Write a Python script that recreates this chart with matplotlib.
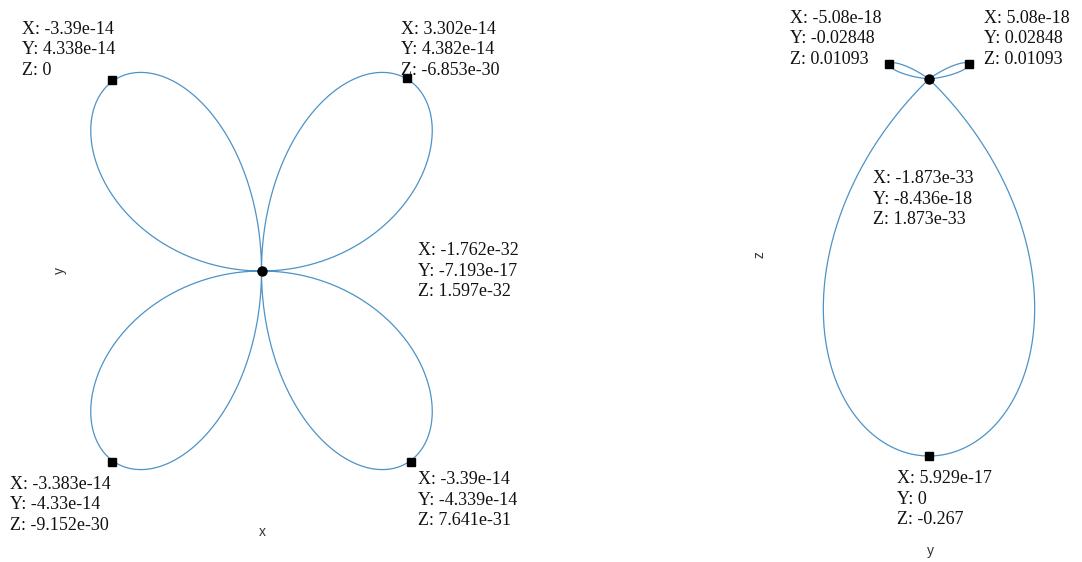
import numpy as np
import matplotlib.pyplot as plt

plt.rcParams['font.family'] = ['Liberation Serif', 'DejaVu Serif']

# x-y view: four-leaf rose, lobe amplitude along x and along y
rose_ax = 5.03e-14
rose_ay = 5.85e-14

# y-z view: one long lobe under the crossing, two short ones above it
lobe_dir = [-90.0, 20.6, 159.4]      # direction of each lobe (deg)
lobe_len = [0.267, 0.0305, 0.0305]   # lobe length
lobe_half = [45.0, 15.0, 15.0]       # half opening angle at the crossing (deg)
lobe_wide = [1.03, 1.0, 1.0]         # sideways stretch of the lobe

# data tips, x-y view
xy_tip_x = [-3.39e-14, 3.302e-14, -3.383e-14, 3.39e-14]
xy_tip_y = [4.338e-14, 4.382e-14, -4.33e-14, -4.339e-14]
xy_tip_text = ['X: -3.39e-14\nY: 4.338e-14\nZ: 0',
               'X: 3.302e-14\nY: 4.382e-14\nZ: -6.853e-30',
               'X: -3.383e-14\nY: -4.33e-14\nZ: -9.152e-30',
               'X: -3.39e-14\nY: -4.339e-14\nZ: 7.641e-31']
xy_mid_x = -1.762e-32
xy_mid_y = -7.193e-17
xy_mid_text = 'X: -1.762e-32\nY: -7.193e-17\nZ: 1.597e-32'

# data tips, y-z view
yz_tip_y = [-0.02848, 0.02848, 0.0]
yz_tip_z = [0.01093, 0.01093, -0.267]
yz_tip_text = ['X: -5.08e-18\nY: -0.02848\nZ: 0.01093',
               'X: 5.08e-18\nY: 0.02848\nZ: 0.01093',
               'X: 5.929e-17\nY: 0\nZ: -0.267']
yz_mid_y = -8.436e-18
yz_mid_z = 1.873e-33
yz_mid_text = 'X: -1.873e-33\nY: -8.436e-18\nZ: 1.873e-33'

W, H = 1082, 562
line_col = '#4d93c6'


def place(box, origin, ppu):
    """axes over pixel box (l, t, r, b), data (0,0) at pixel origin, ppu px per unit"""
    l, t, r, b = box
    ax = fig.add_axes([l / W, 1 - b / H, (r - l) / W, (b - t) / H])
    ax.set_xlim((l - origin[0]) / ppu, (r - origin[0]) / ppu)
    ax.set_ylim((origin[1] - b) / ppu, (origin[1] - t) / ppu)
    ax.set_xticks([])
    ax.set_yticks([])
    for s in ax.spines.values():
        s.set_visible(False)
    return ax


def tip(ax, x, y, text, dx, dy, marker='s', ms=5.5):
    ax.plot(x, y, marker=marker, color='k', markersize=ms, linestyle='none', zorder=3)
    ax.annotate(text, (x, y), xytext=(dx, dy), textcoords='offset pixels',
                ha='left', va='top', fontsize=13, linespacing=1.27, color='#111111')


fig = plt.figure(figsize=(W / 100, H / 100), dpi=100)

# ---- left: x-y view
ax1 = place((75, 10, 500, 515), (261.5, 271), 4.41e15)
t = np.linspace(0, 2 * np.pi, 2001)
ax1.plot(rose_ax * np.sin(2 * t) * np.cos(t), rose_ay * np.sin(2 * t) * np.sin(t),
         color=line_col, lw=0.9)

offs = [(-90, 59), (-6, 57), (-102, -14), (7, -9)]
for i in range(4):
    tip(ax1, xy_tip_x[i], xy_tip_y[i], xy_tip_text[i], *offs[i])
tip(ax1, xy_mid_x, xy_mid_y, xy_mid_text, 157, 29, marker='o', ms=6.5)

ax1.set_xlabel('x', family='Liberation Sans', fontsize=10, color='#333333')
ax1.set_ylabel('y', family='Liberation Sans', fontsize=10, color='#333333')
ax1.xaxis.set_label_coords(0.44, -0.02)
ax1.yaxis.set_label_coords(-0.019, 0.485)

# ---- right: y-z view
ax2 = place((780, 5, 1070, 530), (929, 79), 1412)
for d, L, a, k in zip(lobe_dir, lobe_len, lobe_half, lobe_wide):
    psi = np.linspace(-np.radians(a), np.radians(a), 600)
    r = L * np.cos(np.pi * psi / (2 * np.radians(a)))
    u = r * np.cos(psi)          # along the lobe
    v = k * r * np.sin(psi)      # across the lobe
    c, s = np.cos(np.radians(d)), np.sin(np.radians(d))
    ax2.plot(u * c - v * s, u * s + v * c, color=line_col, lw=0.9)

offs = [(-99, 54), (15, 54), (-32, -14)]
for i in range(3):
    tip(ax2, yz_tip_y[i], yz_tip_z[i], yz_tip_text[i], *offs[i])
tip(ax2, yz_mid_y, yz_mid_z, yz_mid_text, -56, -91, marker='o', ms=6.5)

ax2.set_xlabel('y', family='Liberation Sans', fontsize=10, color='#333333')
ax2.set_ylabel('z', family='Liberation Sans', fontsize=10, color='#333333')
ax2.xaxis.set_label_coords(0.517, -0.027)
ax2.yaxis.set_label_coords(-0.045, 0.524)

fig.savefig('out.png', dpi=100)
